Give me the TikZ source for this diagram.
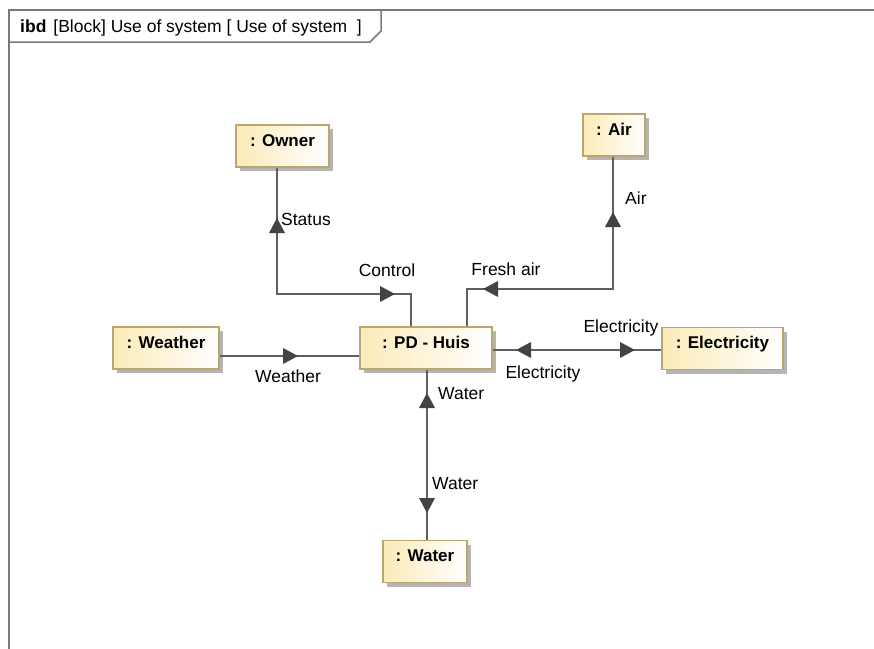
\documentclass[tikz,border=0pt]{standalone}
\usepackage{fontspec}
\setmainfont{Liberation Sans}
\usetikzlibrary{shadows}
\definecolor{blockyellow}{HTML}{FBEBB8}
\definecolor{blockborder}{HTML}{BCA66C}
\definecolor{shadowgray}{HTML}{B4B4B4}
\definecolor{linegray}{HTML}{5F5F5F}
\definecolor{headgray}{HTML}{434343}
\definecolor{framec}{HTML}{7A7A7A}
\begin{document}
\begin{tikzpicture}[x=1pt,y=1pt,
  every node/.style={font=\fontsize{17.5}{20}\selectfont},
  block/.style={draw=blockborder, line width=1.1pt, left color=blockyellow, right color=white,
    minimum height=42pt, inner xsep=0pt, inner ysep=0pt, text height=21pt, text depth=21pt,
    font=\fontsize{17}{20}\selectfont\bfseries,
    drop shadow={shadow xshift=4pt, shadow yshift=-4pt, fill=shadowgray, opacity=1}},
  conn/.style={draw=linegray, line width=1.5pt},
  lbl/.style={inner sep=0pt, text height=12.5pt, text depth=0pt},
  arrowhead/.pic={\fill[headgray] (0,0) -- (-15,8) -- (-15,-8) -- cycle;}
]
\useasboundingbox (0,0) rectangle (874,-648);
% frame
\draw[framec, line width=1.5pt] (9,-660) -- (9,-10) -- (880,-10);
\draw[framec, line width=1.5pt] (9,-42) -- (370,-42) -- (381,-31) -- (381,-10);
\node[lbl, anchor=west] (title) at (20,-26) {\textbf{ibd}\hspace{7pt}[Block] Use of system [ Use of system~ ]};
% blocks
\node[block, minimum width=93pt] (owner) at (282.5,-146) {: Owner};
\node[block, minimum width=62pt] (air) at (614,-135) {: Air};
\node[block, minimum width=106pt] (weather) at (166,-348) {: Weather};
\node[block, minimum width=132pt] (pd) at (426,-348) {: PD - Huis};
\node[block, minimum width=121pt] (elec) at (722.5,-348.5) {: Electricity};
\node[block, minimum width=84pt] (water) at (425,-561.5) {: Water};
% connectors
\coordinate (k1) at (277,-294); \coordinate (k2) at (411,-294);
\draw[conn] (owner.south -| k1) -- (k1) -- (k2) -- (pd.north -| k2);
\coordinate (k3) at (613,-289); \coordinate (k4) at (467,-289);
\draw[conn] (air.south -| k3) -- (k3) -- (k4) -- (pd.north -| k4);
\coordinate (k5) at (0,-356);
\draw[conn] (weather.east |- k5) -- (pd.west |- k5);
\coordinate (k6) at (0,-350);
\draw[conn] (pd.east |- k6) -- (elec.west |- k6);
\coordinate (k7) at (427,0);
\draw[conn] (pd.south -| k7) -- (water.north -| k7);
% arrowheads
\pic[rotate=90] at (277,-218) {arrowhead};
\pic at (395,-294) {arrowhead};
\pic[rotate=90] at (613,-212) {arrowhead};
\pic[rotate=180] at (483,-289) {arrowhead};
\pic at (298,-356) {arrowhead};
\pic[rotate=180] at (516,-350) {arrowhead};
\pic at (635,-350) {arrowhead};
\pic[rotate=90] at (427,-393) {arrowhead};
\pic[rotate=-90] at (427,-513) {arrowhead};
% labels
\node[lbl, anchor=west] (lstatus) at (281,-219) {Status};
\node[lbl] (lcontrol) at (387,-270) {Control};
\node[lbl, anchor=west] (lair) at (625,-198) {Air};
\node[lbl] (lfresh) at (506,-269) {Fresh air};
\node[lbl] (lweather) at (288,-376) {Weather};
\node[lbl] (lelec1) at (621,-326) {Electricity};
\node[lbl] (lelec2) at (543,-372) {Electricity};
\node[lbl, anchor=west] (lwater1) at (438,-393) {Water};
\node[lbl, anchor=west] (lwater2) at (432,-483) {Water};
\end{tikzpicture}
\end{document}
